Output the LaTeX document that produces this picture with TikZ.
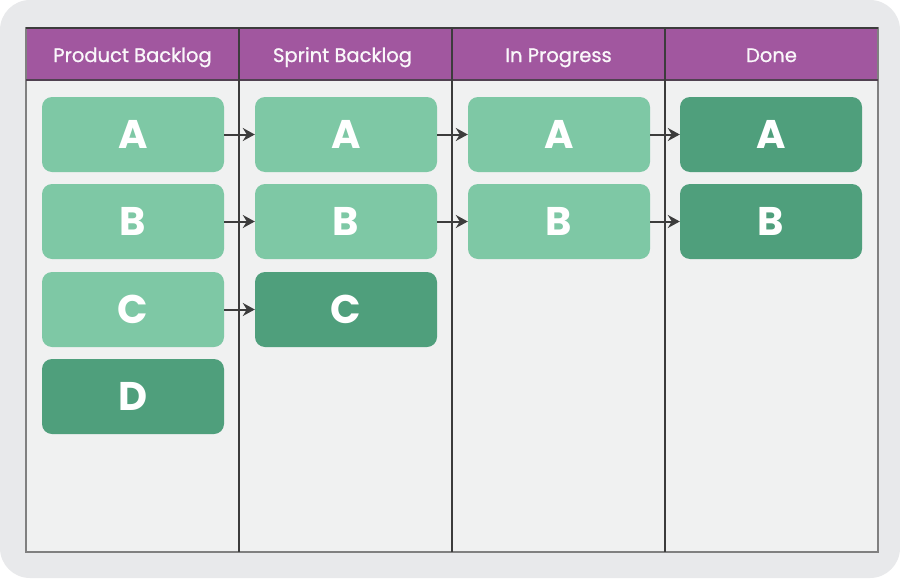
\documentclass[tikz,border=0pt]{standalone}
\usepackage{fontspec}
\setmainfont{Poppins}
\newfontfamily\headfont[FakeBold=1]{Poppins}
\usetikzlibrary{arrows.meta}
\definecolor{boardgray}{HTML}{E8E9EB}
\definecolor{bodygray}{HTML}{F0F1F1}
\definecolor{headpurple}{HTML}{A1579F}
\definecolor{lightcard}{HTML}{7EC8A5}
\definecolor{darkcard}{HTML}{4F9F7C}
\definecolor{linegray}{HTML}{3C3C3C}
\tikzset{
  todo/.style={fill=lightcard, rounded corners=10pt, minimum width=182pt, minimum height=75pt,
    text=white, font=\fontsize{40}{40}\selectfont\bfseries, inner sep=0pt},
  finished/.style={todo, fill=darkcard},
  colhead/.style={text=white!95!headpurple, font=\headfont\fontsize{19.5}{20}\selectfont,
    text height=14pt, text depth=4pt},
  move/.style={-{Stealth[length=12pt,width=13pt,inset=4pt]}, linegray, line width=2pt}
}

\begin{document}
\begin{tikzpicture}[x=1pt, y=-1pt]
        \useasboundingbox (0, 0) rectangle (900, 581);
        \fill [white] (0, 0) rectangle (900, 581);
        \fill [boardgray, rounded corners=30pt] (0, 0) rectangle (900, 578);
        % the board
        \fill [bodygray] (26, 80) rectangle (878, 552);
        \fill [headpurple] (26, 28) rectangle (878, 80);
        \draw [gray, line width=1.2pt] (26, 28) rectangle (878, 552);
        \draw [linegray, line width=1.2pt] (26, 28) -- (878, 28);
        \draw [linegray!80!headpurple, line width=1.4pt] (26, 80) -- (878, 80);
        \draw [linegray, line width=1.1pt] (239, 28) -- (239, 552);
        \draw [linegray, line width=1.1pt] (452, 28) -- (452, 552);
        \draw [linegray, line width=1.1pt] (665, 28) -- (665, 552);
        % column titles
        \node [colhead] (hprod) at (132.5, 57) {Product Backlog};
        \node [colhead] (hsprint) at (342.5, 57) {Sprint Backlog};
        \node [colhead] (hprog) at (558.5, 57) {In Progress};
        \node [colhead] (hdone) at (771.5, 57) {Done};
        % cards
        \node [todo] (prodA) at (133, 134.5) {A};
        \node [todo] (prodB) at (133, 221.5) {B};
        \node [todo] (prodC) at (133, 309.5) {C};
        \node [finished] (prodD) at (133, 396.5) {D};
        \node [todo] (sprintA) at (346, 134.5) {A};
        \node [todo] (sprintB) at (346, 221.5) {B};
        \node [finished] (sprintC) at (346, 309.5) {C};
        \node [todo] (progA) at (559, 134.5) {A};
        \node [todo] (progB) at (559, 221.5) {B};
        \node [finished] (doneA) at (771, 134.5) {A};
        \node [finished] (doneB) at (771, 221.5) {B};
        % moves
        \draw [move] (prodA) -- (sprintA);
        \draw [move] (prodB) -- (sprintB);
        \draw [move] (prodC) -- (sprintC);
        \draw [move] (sprintA) -- (progA);
        \draw [move] (sprintB) -- (progB);
        \draw [move] (progA) -- (doneA);
        \draw [move] (progB) -- (doneB);
    \end{tikzpicture}
\end{document}
